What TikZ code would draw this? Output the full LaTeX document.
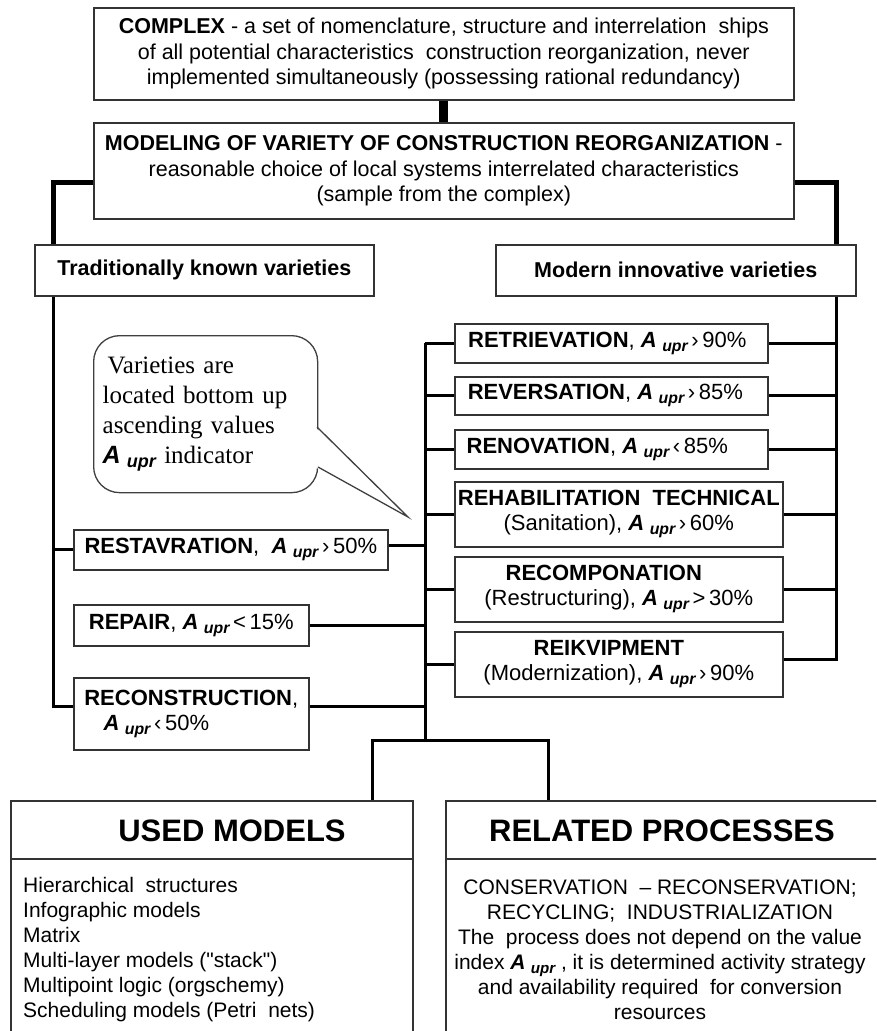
\documentclass[tikz,border=0pt]{standalone}
\usepackage{fontspec}
\setmainfont{Liberation Sans}
\newfontfamily\notefont{Liberation Serif}
\newfontfamily\arialfont{Liberation Sans}
\usetikzlibrary{calc}
\newcommand{\Aupr}{{\arialfont\bfseries\itshape A}\kern.25em\raisebox{-.35ex}{\scalebox{.72}{\arialfont\bfseries\itshape upr}}}

\tikzset{
  box/.style={draw=black!80, line width=1.6pt, fill=white, anchor=north west, inner sep=2pt, align=center},
  toptext/.style={font=\fontsize{21.5}{25.5}\selectfont},
  headtext/.style={font=\fontsize{21.5}{25.5}\selectfont\bfseries},
  midtext/.style={font=\fontsize{22}{25}\selectfont},
  link/.style={line width=3pt},
}

\begin{document}
\begin{tikzpicture}[x=1pt,y=-1pt]
			%%%%% START %%%%%
			\useasboundingbox (0,0) rectangle (876,1031);
			\clip (0,0) rectangle (876,1031);
			\fill[white] (0,0) rectangle (876,1031);
			
			\coordinate (ltrunk) at (53,0);
			\coordinate (ctrunk) at (425,0);
			\coordinate (rtrunk) at (836,0);
			\coordinate (split) at (425,740);
			
			\node[box, toptext, minimum width=700pt, minimum height=92pt] (complex) at (93,7) {\textbf{COMPLEX} - a set of nomenclature, structure and interrelation\ \ ships\\ of all potential characteristics\ \ construction reorganization, never\\ implemented simultaneously (possessing rational redundancy)};
			\node[box, toptext, minimum width=700pt, minimum height=96pt] (modeling) at (93,122) {\textbf{MODELING OF VARIETY OF CONSTRUCTION REORGANIZATION} -\\ reasonable choice of local systems interrelated characteristics\\ (sample from the complex)};
			
			\node[box, headtext, minimum width=339pt, minimum height=51pt] (trad) at (34,244) {Traditionally known varieties};
			\node[box, headtext, minimum width=360pt, minimum height=51pt] (modern) at (495,244) {Modern innovative varieties};
			
			\draw[line width=9pt] (complex.south) -- (modeling.north);
			\draw[line width=5pt] ([yshift=-12pt]modeling.west) -| (ltrunk |- trad.north);
			\draw[line width=5pt] ([yshift=-12pt]modeling.east) -| (rtrunk |- modern.north);
			
			%%%%% MODERN %%%%%
			\node[box, midtext, minimum width=313pt, minimum height=39pt] (retriev) at (454,323) {\textbf{RETRIEVATION}, \Aupr\,›\,90\%\hspace*{8pt}};
			\node[box, midtext, minimum width=313pt, minimum height=38pt] (revers) at (454,376) {\textbf{REVERSATION}, \Aupr\,›\,85\%\hspace*{12pt}};
			\node[box, midtext, minimum width=313pt, minimum height=39pt] (renov) at (454,429) {\textbf{RENOVATION}, \Aupr\,‹\,85\%\hspace*{28pt}};
			\node[box, midtext, minimum width=328pt, minimum height=65pt] (rehab) at (454,481) {\textbf{REHABILITATION\ \ TECHNICAL}\\ (Sanitation), \Aupr\,›\,60\%};
			\node[box, midtext, minimum width=328pt, minimum height=65pt] (recomp) at (454,556) {\textbf{RECOMPONATION}\hspace*{30pt}\\ (Restructuring), \Aupr\,>\,30\%};
			\node[box, midtext, minimum width=328pt, minimum height=65pt] (reikv) at (454,631) {\textbf{REIKVIPMENT}\hspace*{20pt}\\ (Modernization), \Aupr\,›\,90\%};
			
			%%%%% TRADITIONAL %%%%%
			\node[box, midtext, minimum width=314pt, minimum height=40pt] (restav) at (73,529) {\textbf{RESTAVRATION}, \ \Aupr\,›\,50\%};
			\node[box, midtext, minimum width=235pt, minimum height=41pt] (repair) at (73,604) {\textbf{REPAIR}, \Aupr\,<\,15\%};
			\node[box, midtext, minimum width=235pt, minimum height=72pt] (recon) at (73,677) {\textbf{RECONSTRUCTION},\\ \Aupr\,‹\,50\%\hspace*{70pt}};
			
			\coordinate (restavR) at ([yshift=4pt]restav.east);
			\coordinate (reconL) at ([yshift=7pt]recon.west);
			\coordinate (reconR) at ([yshift=7pt]recon.east);
			\coordinate (reikvR) at ([yshift=5pt]reikv.east);
			
			\draw[link] (ltrunk |- trad.south) |- (reconL);
			\draw[link] (ltrunk |- restav.west) -- (restav.west);
			
			\draw[link] (rtrunk |- modern.south) |- (reikvR);
			\draw[link] (rtrunk |- retriev.east) -- (retriev.east);
			\draw[link] (rtrunk |- revers.east) -- (revers.east);
			\draw[link] (rtrunk |- renov.east) -- (renov.east);
			\draw[link] (rtrunk |- rehab.east) -- (rehab.east);
			\draw[link] (rtrunk |- recomp.east) -- (recomp.east);
			
			\draw[link] (ctrunk |- retriev.west) -- (split);
			\draw[link] (ctrunk |- retriev.west) -- (retriev.west);
			\draw[link] (ctrunk |- revers.west) -- (revers.west);
			\draw[link] (ctrunk |- renov.west) -- (renov.west);
			\draw[link] (ctrunk |- rehab.west) -- (rehab.west);
			\draw[link] (ctrunk |- recomp.west) -- (recomp.west);
			\draw[link] (ctrunk |- reikv.west) -- (reikv.west);
			\draw[link] (restavR) -- (ctrunk |- restavR);
			\draw[link] (repair.east) -- (ctrunk |- repair.east);
			\draw[link] (reconR) -- (ctrunk |- reconR);
			
			%%%%% NOTE %%%%%
			\node[draw=black!75, line width=1.3pt, rounded corners=26pt, fill=white, anchor=north west, minimum width=224pt, minimum height=157pt, text width=206pt, inner xsep=9pt, align=left, font=\notefont\fontsize{25}{30}\selectfont] (note) at (93,335) {\hspace*{5pt}Varieties are\\ located bottom up\\ ascending values\\ \Aupr\ indicator};
			\fill[white] (315,427) -- (408,517) -- (315,467) -- cycle;
			\draw[black!75, line width=1.3pt] (317,427) -- (408,517) -- (318,467);
			
			%%%%% BOTTOM %%%%%
			\node[box, minimum width=402pt, minimum height=250pt] (used) at (10,800) {};
			\node[box, minimum width=445pt, minimum height=250pt] (related) at (445,800) {};
			\draw[black!80, line width=1.6pt] ([yshift=-59pt]used.north west) -- ([yshift=-59pt]used.north east);
			\draw[black!80, line width=1.6pt] ([yshift=-59pt]related.north west) -- ([yshift=-59pt]related.north east);
			\draw[link] (used.north -| 372,0) |- (split) -| (related.north -| 548,0);
			
			\node[font=\bfseries\fontsize{31}{31}\selectfont] (usedhead) at (232,831) {USED MODELS};
			\node[font=\bfseries\fontsize{31}{31}\selectfont] (relhead) at (662,831) {RELATED PROCESSES};
			\node[anchor=west, align=left, inner sep=0pt, font=\fontsize{21}{25}\selectfont] (usedlist) at (23,949.5) {Hierarchical\ \ structures\\ Infographic models\\ Matrix\\ Multi-layer models (\textquotedbl stack\textquotedbl)\\ Multipoint logic (orgschemy)\\ Scheduling models (Petri\ \ nets)};
			\node[align=center, inner sep=0pt, font=\fontsize{21}{25}\selectfont] (reltext) at (660,949.5) {CONSERVATION\ \ -- RECONSERVATION;\\ RECYCLING;\ \ INDUSTRIALIZATION\\ The\ \ process does not depend on the value\\ index \Aupr\ , it is determined activity strategy\\ and availability required\ \ for conversion\\ resources};
			%%%%% END %%%%%
\end{tikzpicture}
\end{document}
